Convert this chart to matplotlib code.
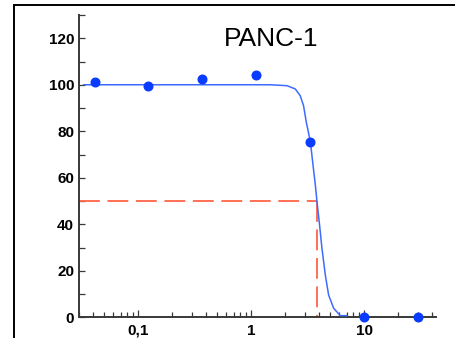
import matplotlib
matplotlib.use("Agg")
import matplotlib.pyplot as plt
from matplotlib import font_manager
from matplotlib.lines import Line2D
from matplotlib.ticker import FixedLocator, FixedFormatter, LogLocator, NullFormatter, MultipleLocator

# measured points (concentration, % viability)
conc = [0.0412, 0.123, 0.37, 1.11, 3.33, 10, 30]
viability = [101.4, 99.6, 102.6, 104.4, 75.6, 0.3, 0.3]

# fitted curve
curve_x = [0.033, 0.5, 1.47, 2.07, 2.45, 2.71, 2.90, 3.07, 3.33, 3.52, 3.69,
           3.81, 4.02, 4.22, 4.52, 4.83, 5.35, 6.13, 7.0]
curve_y = [100, 100, 100, 99.6, 98.2, 95.3, 91.0, 83.8, 75.6, 65.3, 56.7,
           49.9, 39.6, 29.6, 18.1, 9.6, 3.9, 0.7, 0.7]

ic50 = 3.81
half = 50

x_ticks = [0.1, 1, 10]
x_labels = ["0,1", "1", "10"]
title = "PANC-1"

# narrow font if there is one, otherwise plain Liberation Sans
names = {f.name for f in font_manager.fontManager.ttflist}
if "Liberation Sans Narrow" in names:
    fam = "Liberation Sans Narrow"
    tick_size, title_size = 12, 21.5
else:
    fam = "Liberation Sans"
    tick_size, title_size = 11, 19

plt.rcParams["lines.scale_dashes"] = False
axis_col = "#383838"

fig = plt.figure(figsize=(4.56, 3.38), dpi=100)
ax = fig.add_axes([79 / 456, 1 - 317.3 / 338, (436 - 79) / 456, (317.3 - 15) / 338])

# curve + points
ax.plot(curve_x, curve_y, color="#3f6bff", lw=1.1, zorder=3)
ax.plot(conc, viability, "o", color="#0a3cff", ms=6.2, clip_on=False, zorder=5)

# IC50 guide lines
ax.plot([0.03, ic50], [half, half], color="#ff6448", lw=1.3, dashes=(15, 5.5), zorder=2)
ax.plot([ic50, ic50], [half, 0], color="#ff6448", lw=1.3, dashes=(15, 5.5), zorder=2)

ax.set_xscale("log")
ax.set_xlim(0.03, 43)
ax.set_ylim(0, 130)

for s in ["top", "right"]:
    ax.spines[s].set_visible(False)
for s in ["left", "bottom"]:
    ax.spines[s].set_color(axis_col)
    ax.spines[s].set_linewidth(1.4)

ax.xaxis.set_major_locator(FixedLocator(x_ticks))
ax.xaxis.set_major_formatter(FixedFormatter(x_labels))
ax.xaxis.set_minor_locator(LogLocator(base=10, subs=[2, 3, 4, 5, 6, 7, 8, 9]))
ax.xaxis.set_minor_formatter(NullFormatter())
ax.yaxis.set_major_locator(MultipleLocator(20))
ax.yaxis.set_minor_locator(MultipleLocator(10))

ax.tick_params(axis="x", which="major", direction="in", length=5, width=0.9, color=axis_col, pad=4.5)
ax.tick_params(axis="x", which="minor", direction="in", length=3.6, width=0.9, color=axis_col)
ax.tick_params(axis="y", which="both", direction="in", length=4.5, width=0.9, color=axis_col, pad=3.5)

for lab in ax.get_xticklabels() + ax.get_yticklabels():
    lab.set_family(fam)
    lab.set_fontweight("bold")
    lab.set_fontsize(tick_size)

ax.text(0.539, 0.898, title, transform=ax.transAxes, ha="center", va="baseline",
        fontsize=title_size, family=fam)

# outer frame (left and top only are visible)
fig.add_artist(Line2D([14 / 456, 14 / 456], [0, 1 - 5 / 338], transform=fig.transFigure, color="black", lw=1.4))
fig.add_artist(Line2D([14 / 456, 1], [1 - 5 / 338, 1 - 5 / 338], transform=fig.transFigure, color="black", lw=1.4))

fig.savefig("out.png", dpi=100)
